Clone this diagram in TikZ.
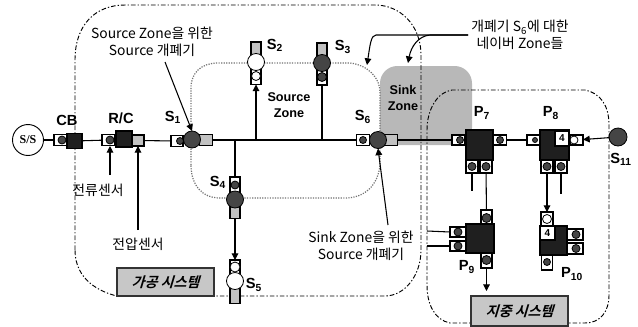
\documentclass[tikz,border=0pt]{standalone}
\usepackage{fontspec}
\setmainfont{Liberation Sans}
\newfontfamily\krfont{Noto Sans CJK KR}
\newfontfamily\krslant[FakeSlant=0.3]{Noto Sans CJK KR Bold}
\newfontfamily\serifb{Liberation Serif}
\usetikzlibrary{arrows.meta}
\definecolor{lite}{gray}{0.76}
\definecolor{dark}{gray}{0.12}
\definecolor{mid}{gray}{0.27}
\definecolor{sinkfill}{gray}{0.72}
\tikzset{
 px/.style={x=0.75pt,y=-0.75pt},
 part/.style n args={2}{draw=black,line width=0.8pt,inner sep=0,outer sep=0,minimum width=#1*0.75pt,minimum height=#2*0.75pt},
 litebox/.style n args={2}{part={#1}{#2},fill=lite},
 whitebox/.style n args={2}{part={#1}{#2},fill=white},
 darkbox/.style n args={2}{part={#1}{#2},fill=dark,draw=black},
 ball/.style={circle,draw=black,line width=0.6pt,inner sep=0,outer sep=0,minimum size=#1*0.75pt},
 darkball/.style={ball=#1,fill=mid},
 whiteball/.style={ball=#1,fill=white},
 tag/.style={font=\bfseries\fontsize{11}{11}\selectfont,inner sep=0},
 note/.style={font=\krfont\fontsize{10.4}{12.75}\selectfont,align=center,inner sep=0},
 zone/.style={font=\bfseries\fontsize{9.5}{12}\selectfont,align=center,inner sep=0},
 sysbox/.style={draw=black!80,line width=1pt,fill=black!22,minimum width=97*0.75pt,inner sep=0,font=\krslant\fontsize{10.5}{11}\selectfont},
 wire/.style={draw=black,line width=0.8pt},
 wirearrow/.style={wire,-{Triangle[length=5pt,width=5pt]}},
 boundary/.style={draw=black,line width=0.7pt,dash pattern=on 3.5pt off 1.5pt on 1pt off 1.5pt},
 sourcezone/.style={draw=black!55,line width=0.9pt,densely dotted},
}
\begin{document}
\begin{tikzpicture}[px]
\useasboundingbox (0,0) rectangle (638,326);
\fill[white] (0,0) rectangle (638,326);
% sink zone
\fill[sinkfill,rounded corners=13pt] (380,66) rectangle (472,145);
% zone outlines
\draw[boundary] (75,250) -- (75,60) .. controls (75,25) and (95,5) .. (125,5) -- (375,5) .. controls (400,5) and (421,25) .. (421,55) -- (421,250) .. controls (421,275) and (405,296) .. (385,296) -- (117,296) .. controls (100,292) and (75,280) .. (75,250) -- cycle;
\draw[boundary] (427,130) .. controls (427,110) and (437,92) .. (452,90) -- (585,90) .. controls (600,93) and (609,105) .. (609,125) -- (609,295) .. controls (609,312) and (600,323) .. (585,323) -- (450,323) .. controls (435,320) and (427,305) .. (427,285) -- cycle;
\draw[sourcezone] (191,165) -- (191,88) .. controls (191,72) and (202,63) .. (218,63) -- (350,63) .. controls (368,65) and (380,78) .. (380,92) -- (380,165) .. controls (378,185) and (365,198) .. (345,198) -- (220,198) .. controls (202,198) and (191,185) .. (191,165) -- cycle;

% source
\node[circle,draw=black,line width=0.7pt,minimum size=31*0.75pt,inner sep=0,fill=white,font=\serifb\bfseries\fontsize{9}{9}\selectfont] (ss) at (28,140) {S/S};
% CB
\node[whitebox={13}{11}] (cbl) at (60.5,140) {};
\node[darkball=8] (cbc) at (62,140) {};
\node[darkbox={15}{15}] (cb) at (74.5,141) {};
\node[tag] (cbt) at (67,120) {CB};
% R/C
\node[whitebox={13}{11}] (rcl) at (108.5,140) {};
\node[darkball=8] (rcc) at (110,140) {};
\node[darkbox={16}{16}] (rc) at (124,139) {};
\node[litebox={12}{11}] (rcr) at (138,140.5) {};
\node[tag] (rct) at (121,118) {R/C};
% S1
\node[whitebox={12}{11}] (s1l) at (177,141) {};
\node[darkball=7] (s1lc) at (180,141) {};
\node[litebox={13}{11}] (s1r) at (206,140) {};
\node[darkball=17] (s1) at (192,139.5) {};
\node[tag] (s1t) at (173,117) {S\textsubscript{1}};
% S6
\node[whitebox={13}{11}] (s6l) at (363,140) {};
\node[darkball=7] (s6lc) at (363,140) {};
\node[litebox={13}{11}] (s6r) at (391,140) {};
\node[darkball=17] (s6) at (378,140) {};
\node[tag] (s6t) at (363,117) {S\textsubscript{6}};
% S2
\node[litebox={10}{14}] (s2u) at (256,49) {};
\node[whitebox={10}{16}] (s2d) at (256,76.5) {};
\node[whiteball=17] (s2) at (256,62) {};
\node[whiteball=9] (s2c) at (256,76) {};
\node[tag] (s2t) at (275,45) {S\textsubscript{2}};
% S3
\node[litebox={10}{14}] (s3u) at (322,50) {};
\node[whitebox={10}{16}] (s3d) at (322,77) {};
\node[darkball=17] (s3) at (322,63) {};
\node[darkball=9] (s3c) at (322,77) {};
\node[tag] (s3t) at (343,47) {S\textsubscript{3}};
% S4
\node[whitebox={10}{16}] (s4u) at (235,185) {};
\node[litebox={10}{15}] (s4d) at (235,211) {};
\node[darkball=8] (s4c) at (235,185) {};
\node[darkball=17] (s4) at (235,199.5) {};
\node[tag] (s4t) at (218,182) {S\textsubscript{4}};
% S5
\node[whitebox={10}{14}] (s5u) at (235,267) {};
\node[litebox={10}{15}] (s5d) at (235,296) {};
\node[whiteball=10] (s5c) at (235,267) {};
\node[whiteball=17] (s5) at (235,281) {};
\node[tag] (s5t) at (254,285) {S\textsubscript{5}};
% P7
\node[darkbox={27}{30}] (p7) at (479.5,145) {};
\node[whitebox={13}{10}] (p7l) at (458.5,140) {};
\node[darkball=7] (p7lc) at (460,140) {};
\node[whitebox={13}{10}] (p7r) at (500,140) {};
\node[darkball=7] (p7rc) at (500,140) {};
\node[whitebox={12}{13}] (p7a) at (472,166.5) {};
\node[whitebox={12}{13}] (p7b) at (486,166.5) {};
\node[darkball=8] (p7ac) at (472,166.5) {};
\node[darkball=8] (p7bc) at (486,166.5) {};
\node[tag] (p7t) at (482,113) {P\textsubscript{7}};
% P8
\node[darkbox={29}{30}] (p8) at (554.5,145) {};
\node[whitebox={14}{15},font=\bfseries\fontsize{7.5}{8}\selectfont] (p8f) at (562,138.5) {4};
\node[whitebox={13}{10}] (p8r) at (576.5,140) {};
\node[whiteball=8] (p8rc) at (574,140) {};
\node[whitebox={13}{10}] (p8l) at (533.5,140) {};
\node[darkball=5] (p8lc) at (535,140) {};
\node[whitebox={12}{13}] (p8a) at (547,166.5) {};
\node[whitebox={12}{13}] (p8b) at (561,166.5) {};
\node[darkball=8] (p8ac) at (547,166.5) {};
\node[darkball=8] (p8bc) at (561,166.5) {};
\node[tag] (p8t) at (551,113) {P\textsubscript{8}};
% S11
\node[darkball=18] (s11) at (618,137) {};
\node[tag] (s11t) at (621,159) {S\textsubscript{11}};
% P9
\node[darkbox={28}{29}] (p9) at (480,238.5) {};
\node[whitebox={11}{14}] (p9t) at (486.5,217) {};
\node[darkball=9] (p9tc) at (486.5,218) {};
\node[whitebox={16}{10}] (p9a) at (458,232) {};
\node[whitebox={16}{10}] (p9b) at (458,246) {};
\node[darkball=8] (p9ac) at (458,232) {};
\node[darkball=8] (p9bc) at (458,246) {};
\node[whitebox={11}{15}] (p9d) at (486.5,260.5) {};
\node[darkball=9] (p9dc) at (486.5,260) {};
\node[tag] (p9l) at (467,267) {P\textsubscript{9}};
% P10
\node[darkbox={27}{29}] (p10) at (553.5,240.5) {};
\node[whitebox={15}{14},font=\bfseries\fontsize{7.5}{8}\selectfont] (p10f) at (547.5,233) {4};
\node[whitebox={12}{14}] (p10t) at (547,219) {};
\node[whiteball=9] (p10tc) at (547,219) {};
\node[whitebox={16}{11}] (p10a) at (575,234.5) {};
\node[whitebox={16}{11}] (p10b) at (575,248.5) {};
\node[darkball=8] (p10ac) at (576,234.5) {};
\node[darkball=8] (p10bc) at (576,248.5) {};
\node[whitebox={11}{15}] (p10d) at (547,262.5) {};
\node[darkball=7] (p10dc) at (547,262) {};
\node[tag] (p10l) at (572,274) {P\textsubscript{10}};

% wires
\coordinate (j4) at (235,140);
\coordinate (j2) at (256,140);
\coordinate (j3) at (322,140);
\draw[wire] (ss) -- (cbl);
\draw[wire] (cb) -- (rcl);
\draw[wire] (rcr) -- (s1l);
\draw[wire] (s1r) -- (s6l);
\draw[wire] (s6r) -- (p7l);
\draw[wire] (p7r) -- (p8l);
\draw[wirearrow] (s11) -- (p8r);
\draw[wire] (j4) -- (s4u);
\draw[wirearrow] (j2) -- (s2d);
\draw[wire] (j3) -- (s3d);
\draw[wirearrow] (s4d) -- (s5u);
\draw[wire] (p7b) -- (p9t);
\coordinate (p7end) at (472,191);
\draw[wire] (p7a) -- (p7end);
\coordinate (p8end) at (561,194);
\draw[wire] (p8b) -- (p8end);
\draw[wirearrow] (p8a) -- (p10t);
\coordinate (p9ae) at (427,231);
\coordinate (p9be) at (427,246);
\draw[wire] (p9a.west) -- (p9ae);
\draw[wire] (p9b.west) -- (p9be);
\coordinate (p9out) at (486.5,291);
\draw[wirearrow] (p9d) -- (p9out);

% labels
\node[zone] (srcz) at (289,105) {Source\\Zone};
\node[zone] (sinkz) at (403,98) {Sink\\Zone};
\node[note] (n1) at (152,41.5) {Source Zone을 위한\\Source 개폐기};
\node[note] (n2) at (520,35) {개폐기 S\textsubscript{6}에 대한\\네이버 Zone들};
\node[note] (n3) at (98,190) {전류센서};
\node[note] (n4) at (138,244) {전압센서};
\node[note] (n5) at (361,246) {Sink Zone을 위한\\Source 개폐기};
\node[sysbox,minimum height=28*0.75pt] (sysa) at (165.5,282) {가공 시스템};
\node[sysbox,minimum height=30*0.75pt] (sysb) at (519.5,311) {지중 시스템};

% sensor and note arrows
\coordinate (cs) at (110,175);
\coordinate (vs) at (138,230);
\coordinate (csh) at (110,146);
\coordinate (vsh) at (138,146);
\draw[wirearrow] (cs) -- (csh);
\draw[wirearrow] (vs) -- (vsh);
\coordinate (a1) at (165,62);
\draw[wirearrow] (a1) -- (s1.north);
\coordinate (a5) at (388,225);
\draw[wirearrow] (a5) -- (s6.south);
\coordinate (n2a) at (468,35);
\coordinate (za) at (367,65);
\coordinate (zb) at (408,63);
\draw[wirearrow] (n2a) -- (376,35) .. controls (371,35) and (370,45) .. (za);
\draw[wirearrow] (n2a) -- (430,35) .. controls (418,36) and (411,47) .. (zb);
\end{tikzpicture}
\end{document}
